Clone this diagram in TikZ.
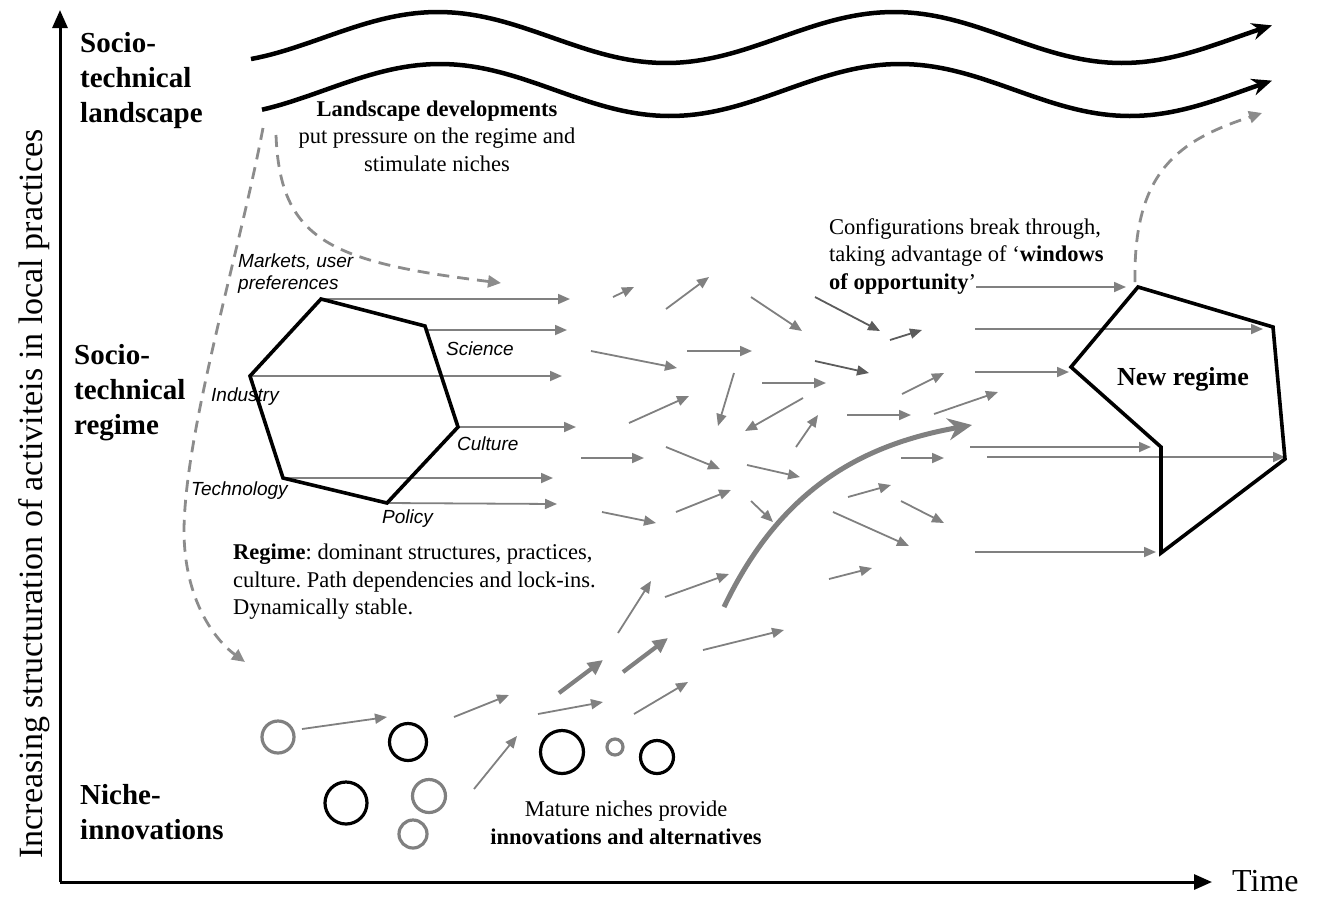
\documentclass[tikz,border=0pt]{standalone}
\usepackage{fontspec}
\setmainfont{Liberation Serif}
\newfontfamily\labelsans{Liberation Sans}
\usetikzlibrary{arrows.meta}
\definecolor{arrgray}{HTML}{808080}
\definecolor{darkgr}{HTML}{5C5C5C}
\definecolor{dashgr}{HTML}{8C8C8C}
\tikzset{
  garrow/.style={draw=arrgray, line width=1.8pt, -{Triangle[length=12pt,width=10pt]}},
  darrow/.style={draw=darkgr, line width=1.8pt, -{Triangle[length=12pt,width=10pt]}},
  thickarrow/.style={draw=arrgray, line width=4.2pt, -{Triangle[length=15pt,width=14pt]}},
  dasharrow/.style={draw=dashgr, line width=2.8pt, dash pattern=on 12pt off 8pt, -{Triangle[length=13pt,width=12pt]}},
  wave/.style={line width=4.5pt, -{Stealth[length=20pt,width=17pt]}},
  axis/.style={line width=3pt, -{Triangle[length=18pt,width=15pt]}},
  regimeline/.style={line width=3.6pt, line join=miter},
  niche/.style={line width=3.2pt},
  hexlab/.style={font=\labelsans\itshape\fontsize{19}{22}\selectfont, inner sep=0pt, anchor=west, align=left},
  bodytext/.style={font=\frenchspacing\fontsize{22.5}{27.5}\selectfont, inner sep=0pt},
  levellab/.style={font=\bfseries\fontsize{29}{35}\selectfont, inner sep=0pt, anchor=west, align=left}
}
\begin{document}
\frenchspacing
\begin{tikzpicture}[x=1pt,y=-1pt]
\useasboundingbox (0,0) rectangle (1324,898);

% axes
\coordinate (origin) at (60,882);
\coordinate (ytip) at (60,10);
\coordinate (xtip) at (1212,882);
\draw[axis] (origin) -- (ytip);
\draw[axis] (origin) -- (xtip);
\node[font=\fontsize{32}{38}\selectfont, anchor=west, inner sep=0pt] (time) at (1232,881) {Time};
\node[font=\fontsize{34}{40}\selectfont, rotate=90, inner sep=0pt] (ylab) at (34,494) {Increasing structuration of activiteis in local practices};

% level labels
\node[levellab] (landlab) at (80,81) {Socio-\\technical\\landscape};
\node[levellab] (reglab) at (74,393) {Socio-\\technical\\regime};
\node[levellab] (nichelab) at (80,812) {Niche-\\innovations};

% landscape waves
\draw[wave] plot[domain=251:1272, samples=150] (\x,{37.5-25.5*cos((\x-438)/456*360)});
\draw[wave] plot[domain=262:1272, samples=150] (\x,{90-26*cos((\x-440)/460*360)});

\node[bodytext, align=center] (ldev) at (437,136) {\textbf{Landscape developments}\\put pressure on the regime and\\stimulate niches};

% dashed landscape arrows
\draw[dasharrow] (263,128) .. controls (240,250) and (185,430) .. (184,530) .. controls (184,600) and (215,640) .. (245,662);
\draw[dasharrow] (276,135) .. controls (280,240) and (330,262) .. (501,283);
\draw[dasharrow] (1135,282) .. controls (1133,170) and (1180,140) .. (1262,113);

% old regime hexagon vertices
\coordinate (hA) at (321,299);
\coordinate (hB) at (425,326);
\coordinate (hC) at (458,427);
\coordinate (hD) at (387,503);
\coordinate (hE) at (283,478);
\coordinate (hF) at (250,376);

% arrows leaving the regime
\draw[garrow] (hA) -- (570,299);
\draw[garrow] (425,330) -- (567,330);
\draw[garrow] (hF) -- (562,376);
\draw[garrow] (hC) -- (576,427);
\draw[garrow] (hE) -- (553,478);
\draw[garrow] (hD) -- (557,504);

\draw[regimeline] (hA) -- (hB) -- (hC) -- (hD) -- (hE) -- (hF) -- cycle;

\node[hexlab] (mk) at (238,274) {Markets, user\\preferences};
\node[hexlab] (sc) at (446,349) {Science};
\node[hexlab] (in) at (211,397) {Industry};
\node[hexlab] (cu) at (457,444) {Culture};
\node[hexlab] (te) at (191,491) {Technology};
\node[hexlab] (po) at (382,519) {Policy};

\node[bodytext, anchor=west, align=left] (regtext) at (233,582) {\textbf{Regime}: dominant structures, practices,\\culture. Path dependencies and lock-ins.\\Dynamically stable.};

% field of arrows
\draw[garrow] (613,297) -- (634,287);
\draw[garrow] (666,309) -- (709,277);
\draw[garrow] (751,297) -- (802,331);
\draw[darrow] (815,297) -- (880,331);
\draw[darrow] (890,340) -- (922,330);
\draw[garrow] (591,351) -- (677,368);
\draw[garrow] (687,351) -- (752,351);
\draw[darrow] (815,361) -- (869,373);
\draw[garrow] (762,383) -- (826,383);
\draw[garrow] (734,373) -- (718,426);
\draw[garrow] (629,423) -- (689,396);
\draw[garrow] (803,398) -- (745,431);
\draw[garrow] (796,447) -- (818,415);
\draw[garrow] (902,394) -- (944,373);
\draw[garrow] (847,415) -- (911,415);
\draw[garrow] (934,414) -- (998,392);
\draw[garrow] (581,458) -- (644,458);
\draw[garrow] (666,447) -- (720,469);
\draw[garrow] (747,465) -- (800,477);
\draw[garrow] (602,512) -- (656,523);
\draw[garrow] (676,512) -- (731,490);
\draw[garrow] (751,501) -- (773,522);
\draw[garrow] (901,458) -- (944,458);
\draw[garrow] (848,497) -- (891,485);
\draw[garrow] (901,501) -- (944,523);
\draw[garrow] (833,512) -- (909,546);
\draw[garrow] (829,579) -- (872,568);
\draw[garrow] (665,597) -- (729,574);
\draw[garrow] (618,633) -- (651,581);
\draw[garrow] (703,650) -- (784,630);
\draw[garrow] (454,717) -- (509,695);
\draw[garrow] (538,714) -- (603,702);
\draw[thickarrow] (559,693) -- (603,660);
\draw[thickarrow] (623,672) -- (668,638);
\draw[garrow] (634,714) -- (688,682);
\draw[garrow] (474,789) -- (517,736);

% big breakthrough arrow
\draw[draw=arrgray, line width=5pt, -{Stealth[length=24pt,width=22pt]}] (724,607) .. controls (780,490) and (860,445) .. (972,425);

% niche circles
\node[draw=arrgray, niche, circle, minimum size=32pt, inner sep=0pt] (c1) at (278,737) {};
\node[draw=black, niche, circle, minimum size=37pt, inner sep=0pt] (c2) at (408,742) {};
\node[draw=black, niche, circle, minimum size=42pt, inner sep=0pt] (c3) at (346,803) {};
\node[draw=arrgray, niche, circle, minimum size=33pt, inner sep=0pt] (c4) at (429,796) {};
\node[draw=arrgray, niche, circle, minimum size=28pt, inner sep=0pt] (c5) at (413,834) {};
\node[draw=black, niche, circle, minimum size=43pt, inner sep=0pt] (c6) at (562,752) {};
\node[draw=arrgray, niche, circle, minimum size=16pt, inner sep=0pt] (c7) at (615,747) {};
\node[draw=black, niche, circle, minimum size=33pt, inner sep=0pt] (c8) at (657,757) {};
\draw[garrow] (302,729) -- (387,717);

\node[bodytext, align=center] (mature) at (626,823) {Mature niches provide\\\textbf{innovations and alternatives}};

% windows of opportunity
\node[bodytext, anchor=west, align=left] (conf) at (829,256) {Configurations break through,\\taking advantage of `\textbf{windows}\\\textbf{of opportunity}'};

% new regime
\coordinate (nA) at (1138,287);
\coordinate (nB) at (1273,327);
\coordinate (nC) at (1285,459);
\coordinate (nD) at (1161,553);
\coordinate (nE) at (1161,447);
\coordinate (nF) at (1071,367);

\draw[garrow] (976,287) -- (1126,287);
\draw[garrow] (975,329) -- (1263,329);
\draw[garrow] (975,372) -- (1069,372);
\draw[garrow] (970,447) -- (1151,447);
\draw[garrow] (987,457) -- (1285,457);
\draw[garrow] (975,552) -- (1156,552);

\draw[regimeline] (nA) -- (nB) -- (nC) -- (nD) -- (nE) -- (nF) -- cycle;
\node[font=\bfseries\fontsize{26}{30}\selectfont, inner sep=0pt] (newreg) at (1183,379) {New regime};
\end{tikzpicture}
\end{document}
